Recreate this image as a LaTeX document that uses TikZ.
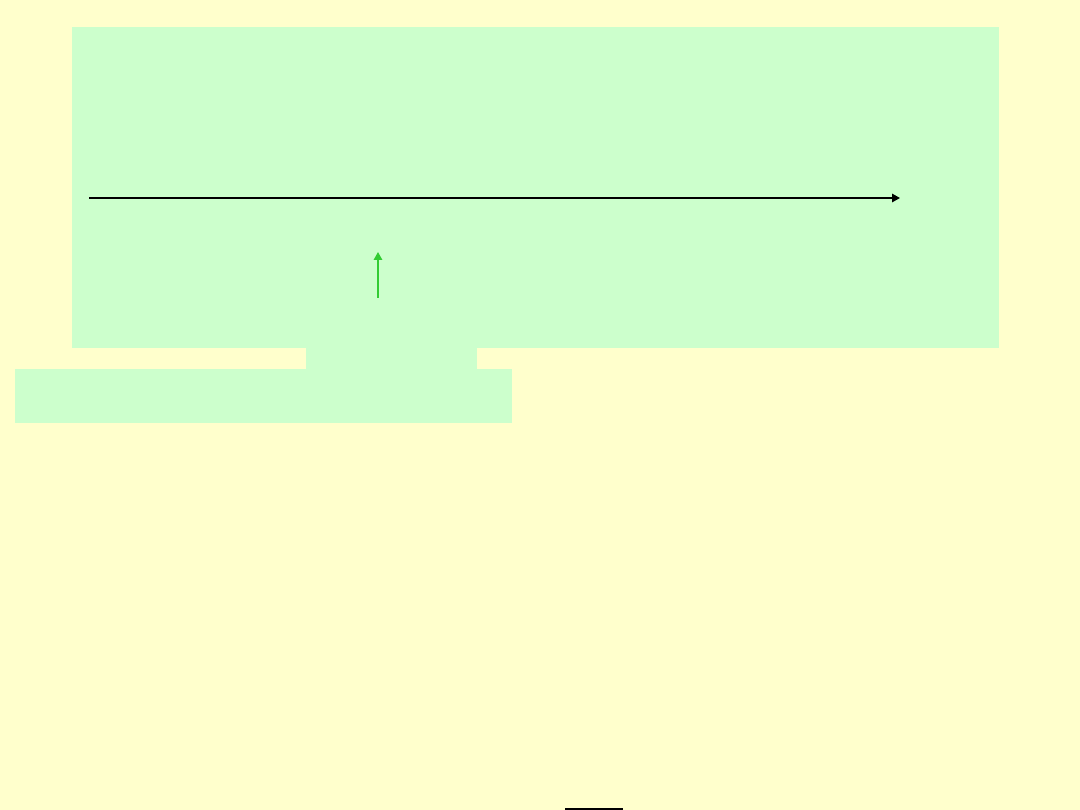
\documentclass[tikz,border=0pt]{standalone}
\usetikzlibrary{arrows.meta}
\definecolor{bgyellow}{HTML}{FFFFCC}
\definecolor{panelgreen}{HTML}{CCFFCC}
\definecolor{arrowgreen}{HTML}{33CC33}
\tikzset{
  panel/.style={fill=panelgreen, draw=none},
  blackarrow/.style={draw=black, line width=1.5pt, -{Triangle[length=8pt,width=8.5pt]}},
  greenarrow/.style={draw=arrowgreen, line width=1.5pt, -{Triangle[length=8pt,width=8.5pt]}}
}
\begin{document}
\begin{tikzpicture}[x=1pt,y=-1pt]
  \fill[bgyellow] (0,0) rectangle (1080,810);
  \useasboundingbox (0,0) rectangle (1080,810);
  \fill[panel] (72,27) rectangle (999,348);
  \fill[panel] (306,347) rectangle (477,370);
  \fill[panel] (15,369) rectangle (512,423);
  \coordinate (axisstart) at (89,198);
  \coordinate (axisend) at (900,198);
  \draw[blackarrow] (axisstart) -- (axisend);
  \coordinate (gstart) at (378,298);
  \coordinate (gend) at (378,252);
  \draw[greenarrow] (gstart) -- (gend);
  \coordinate (bl) at (565,808.5);
  \coordinate (br) at (623,808.5);
  \draw[black, line width=2pt] (bl) -- (br);
\end{tikzpicture}
\end{document}
